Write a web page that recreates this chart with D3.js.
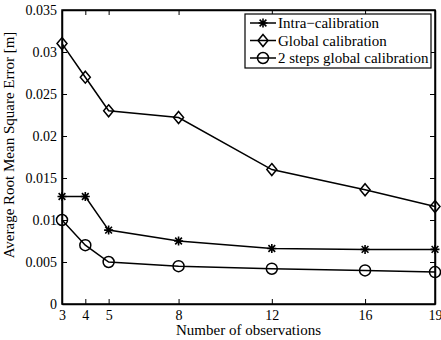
<!DOCTYPE html>
<html>
<head>
<meta charset="utf-8">
<script src="https://cdn.jsdelivr.net/npm/d3@7"></script>
<style>
  body { margin: 0; background: #fff; }
  text { font-family: "Liberation Serif", "Times New Roman", serif; fill: #000; }
</style>
</head>
<body>
<div id="chart"></div>
<script>
// observations on the x axis
var observations = [3, 4, 5, 8, 12, 16, 19];

// RMSE per method
var intraCalib  = [0.0128, 0.0128, 0.0088, 0.0075, 0.0066, 0.0065, 0.0065];
var globalCalib = [0.0310, 0.0270, 0.0230, 0.0222, 0.0160, 0.0136, 0.0116];
var twoStepCalib = [0.0100, 0.0070, 0.0050, 0.0045, 0.0042, 0.0040, 0.0038];

var seriesNames = ["Intra\u2212calibration", "Global calibration", "2 steps global calibration"];
var seriesMarkers = ["star", "diamond", "circle"];
var yTicks = [0, 0.005, 0.01, 0.015, 0.02, 0.025, 0.03, 0.035];
var yTickLabels = ["0", "0.005", "0.01", "0.015", "0.02", "0.025", "0.03", "0.035"];

var series = [intraCalib, globalCalib, twoStepCalib];

// set the dimensions and margins of the graph
var margin = { top: 10, right: 6, bottom: 36, left: 62 },
    width = 441 - margin.left - margin.right,
    height = 340 - margin.top - margin.bottom;

var svg = d3.select("#chart").append("svg")
    .attr("width", 441)
    .attr("height", 340)
  .append("g")
    .attr("transform", "translate(" + margin.left + "," + margin.top + ")");

var x = d3.scaleLinear().domain([3, 19]).range([0, width]);
var y = d3.scaleLinear().domain([0, 0.035]).range([height, 0]);

// axes, ticks pointing inward, box on all sides
var tickLen = 5;
svg.append("g")
    .attr("transform", "translate(0," + height + ")")
    .call(d3.axisBottom(x).tickValues(observations).tickSizeInner(-tickLen).tickSizeOuter(0).tickPadding(6))
    .call(styleAxis);
svg.append("g")
    .call(d3.axisTop(x).tickValues(observations).tickSizeInner(-tickLen).tickSizeOuter(0).tickFormat(""))
    .call(styleAxis);
svg.append("g")
    .call(d3.axisLeft(y).tickValues(yTicks).tickSizeInner(-tickLen).tickSizeOuter(0).tickPadding(5)
        .tickFormat(function (d, i) { return yTickLabels[i]; }))
    .call(styleAxis);
svg.append("g")
    .attr("transform", "translate(" + width + ",0)")
    .call(d3.axisRight(y).tickValues(yTicks).tickSizeInner(-tickLen).tickSizeOuter(0).tickFormat(""))
    .call(styleAxis);

svg.append("rect")
    .attr("width", width).attr("height", height)
    .attr("fill", "none").attr("stroke", "#000").attr("stroke-width", 1.5);

function styleAxis(g) {
  g.attr("font-family", null).attr("font-size", null);
  g.select(".domain").attr("stroke", "#000").attr("stroke-width", 1.5);
  g.selectAll(".tick line").attr("stroke", "#000").attr("stroke-width", 1);
  g.selectAll(".tick text").style("font-size", "14px").attr("fill", "#000");
}

// marker shapes
function drawMarker(g, type, cx, cy) {
  if (type === "circle") {
    g.append("circle").attr("cx", cx).attr("cy", cy).attr("r", 5.5)
      .attr("fill", "none").attr("stroke", "#000").attr("stroke-width", 1.5);
  } else if (type === "diamond") {
    var r = 6;
    g.append("path")
      .attr("d", "M" + cx + "," + (cy - r) + "L" + (cx + r - 1) + "," + cy +
                 "L" + cx + "," + (cy + r) + "L" + (cx - r + 1) + "," + cy + "Z")
      .attr("fill", "none").attr("stroke", "#000").attr("stroke-width", 1.5);
  } else {
    var s = 4.5, d = s * 0.75;
    g.append("path")
      .attr("d", "M" + (cx - s) + "," + cy + "L" + (cx + s) + "," + cy +
                 "M" + (cx - d) + "," + (cy - d) + "L" + (cx + d) + "," + (cy + d) +
                 "M" + (cx - d) + "," + (cy + d) + "L" + (cx + d) + "," + (cy - d) +
                 "M" + cx + "," + (cy - s) + "L" + cx + "," + (cy + s))
      .attr("stroke", "#000").attr("stroke-width", 1.6);
  }
}

var line = d3.line()
    .x(function (d, i) { return x(observations[i]); })
    .y(function (d) { return y(d); });

series.forEach(function (vals, k) {
  svg.append("path")
    .datum(vals)
    .attr("d", line)
    .attr("fill", "none")
    .attr("stroke", "#000")
    .attr("stroke-width", 1.5);
  var mg = svg.append("g");
  vals.forEach(function (v, i) {
    drawMarker(mg, seriesMarkers[k], x(observations[i]), y(v));
  });
});

// legend
var legend = svg.append("g").attr("transform", "translate(183,4)");
legend.append("rect")
    .attr("width", 186).attr("height", 54)
    .attr("fill", "#fff").attr("stroke", "#000").attr("stroke-width", 1.2);
seriesNames.forEach(function (name, k) {
  var ly = 9 + k * 17.5;
  legend.append("line")
    .attr("x1", 5).attr("x2", 31).attr("y1", ly).attr("y2", ly)
    .attr("stroke", "#000").attr("stroke-width", 1.5);
  drawMarker(legend, seriesMarkers[k], 18, ly);
  legend.append("text")
    .attr("x", 33).attr("y", ly).attr("dy", "0.35em")
    .style("font-size", "15px")
    .text(name);
});

// axis titles
svg.append("text")
    .attr("x", width / 2).attr("y", height + 31)
    .attr("text-anchor", "middle")
    .style("font-size", "15px")
    .text("Number of observations");

svg.append("text")
    .attr("transform", "translate(-48,135) rotate(-90)")
    .attr("text-anchor", "middle")
    .style("font-size", "15px")
    .text("Average Root Mean Square Error [m]");
</script>
</body>
</html>
